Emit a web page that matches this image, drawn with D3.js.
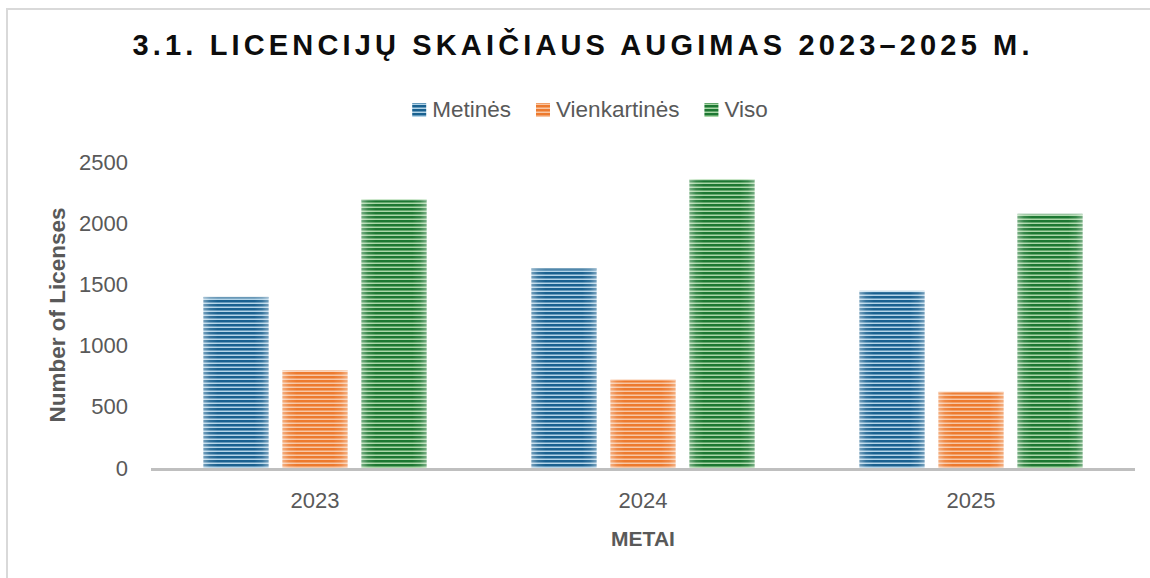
<!DOCTYPE html>
<html>
<head>
<meta charset="utf-8">
<script src="https://cdn.jsdelivr.net/npm/d3@7/dist/d3.min.js"></script>
<style>
  html, body { margin: 0; padding: 0; background: #fff; }
  svg { display: block; }
  text { font-family: "Liberation Sans", Arial, sans-serif; }
</style>
</head>
<body>
<svg id="chart" width="1150" height="578"></svg>
<script>
// ---- data ----
const categories = ["2023", "2024", "2025"];
const seriesNames = ["Metinės", "Vienkartinės", "Viso"];
const metines = [1400, 1635, 1450];
const vienkartines = [800, 725, 625];
const viso = [2200, 2365, 2080];
const yTicks = [0, 500, 1000, 1500, 2000, 2500];
const titleText = "3.1. LICENCIJŲ SKAIČIAUS AUGIMAS 2023–2025 M.";
const yTitle = "Number of Licenses";
const xTitle = "METAI";

const seriesValues = [metines, vienkartines, viso];
const darkCols = ["#1a6190", "#ed7a2e", "#1d7832"];
const lightCols = ["#b3d4e8", "#f8c6a4", "#a9d7a7"];

const svg = d3.select("#chart");
const defs = svg.append("defs");

// stripe patterns
seriesNames.forEach((s, i) => {
  const p = defs.append("pattern")
    .attr("id", "pat" + i)
    .attr("patternUnits", "userSpaceOnUse")
    .attr("width", 8).attr("height", 4);
  p.append("rect").attr("width", 8).attr("height", 4).attr("fill", lightCols[i]);
  p.append("rect").attr("y", 0).attr("width", 8).attr("height", 2.5).attr("fill", darkCols[i]);
});
// edge highlight gradient
const g = defs.append("linearGradient").attr("id", "edge")
  .attr("x1", 0).attr("x2", 1).attr("y1", 0).attr("y2", 0);
[[0, 0.4], [0.1, 0.12], [0.22, 0], [0.78, 0], [0.9, 0.12], [1, 0.4]].forEach(([o, a]) => {
  g.append("stop").attr("offset", o).attr("stop-color", "#fff").attr("stop-opacity", a);
});

// border
svg.append("rect").attr("x", 7).attr("y", 9).attr("width", 1200).attr("height", 700)
  .attr("fill", "none").attr("stroke", "#d9d9d9").attr("stroke-width", 2);

// scales
const x0 = d3.scaleBand().domain(categories).range([151, 1135]).paddingInner(0.32).paddingOuter(0.16);
const x1 = d3.scaleBand().domain(seriesNames).range([0, x0.bandwidth()]).paddingInner(0.177).paddingOuter(0);
const y = d3.scaleLinear().domain([0, 2500]).range([468, 162.5]);

// y axis
const yAxis = svg.append("g").attr("transform", "translate(130,0)")
  .call(d3.axisLeft(y).tickValues(yTicks).tickFormat(d3.format("d")).tickSize(0).tickPadding(2));
yAxis.select(".domain").remove();
yAxis.selectAll("text").attr("font-size", 22).attr("fill", "#595959")
  .style("font-family", "'Liberation Sans', Arial, sans-serif");

// bars
const groups = svg.append("g").selectAll("g").data(categories).join("g")
  .attr("transform", d => `translate(${x0(d)},0)`);
groups.each(function(cat, ci) {
  const grp = d3.select(this);
  seriesNames.forEach((s, si) => {
    const v = seriesValues[si][ci];
    grp.append("rect").attr("x", x1(s)).attr("y", y(v))
      .attr("width", x1.bandwidth()).attr("height", y(0) - y(v))
      .attr("fill", `url(#pat${si})`);
    grp.append("rect").attr("x", x1(s)).attr("y", y(v))
      .attr("width", x1.bandwidth()).attr("height", y(0) - y(v))
      .attr("fill", "url(#edge)");
    grp.append("rect").attr("x", x1(s)).attr("y", y(v))
      .attr("width", x1.bandwidth()).attr("height", 1.5)
      .attr("fill", "#fff").attr("opacity", 0.35);
  });
});

// x axis
const xAxis = svg.append("g").attr("transform", `translate(0,${y(0)})`)
  .call(d3.axisBottom(x0).tickSize(0).tickPadding(24));
xAxis.select(".domain").attr("stroke", "#bfbfbf").attr("stroke-width", 3)
  .attr("d", "M151,1.5H1135");
xAxis.selectAll("text").attr("font-size", 22).attr("fill", "#595959")
  .style("font-family", "'Liberation Sans', Arial, sans-serif");

// axis titles
svg.append("text").attr("x", 643).attr("y", 546).attr("text-anchor", "middle")
  .attr("font-size", 21).attr("font-weight", "bold").attr("fill", "#595959").text(xTitle);
svg.append("text").attr("transform", "translate(65,315) rotate(-90)").attr("text-anchor", "middle")
  .attr("font-size", 22.5).attr("font-weight", "bold").attr("fill", "#595959").text(yTitle);

// title
const t = svg.append("text").attr("x", 581).attr("y", 55).attr("text-anchor", "middle")
  .attr("font-size", 29).attr("font-weight", "bold").attr("fill", "#0d0d0d").text(titleText);
const natural = t.node().getComputedTextLength();
const ls = (897 - natural) / (titleText.length - 1);
t.attr("letter-spacing", ls).attr("x", 581 + ls / 2);

// legend
const legend = svg.append("g");
let lx = 0;
seriesNames.forEach((s, i) => {
  const it = legend.append("g");
  it.append("rect").attr("x", 0).attr("y", -14).attr("width", 14).attr("height", 14)
    .attr("fill", `url(#pat${i})`);
  it.append("text").attr("x", 20).attr("y", 0).attr("font-size", 22.5).attr("fill", "#595959").text(s);
  const w = 20 + it.select("text").node().getComputedTextLength();
  it.attr("transform", `translate(${lx},0)`);
  lx += w + 25;
});
const totalW = lx - 25;
legend.attr("transform", `translate(${590 - totalW / 2},117)`);
</script>
</body>
</html>
